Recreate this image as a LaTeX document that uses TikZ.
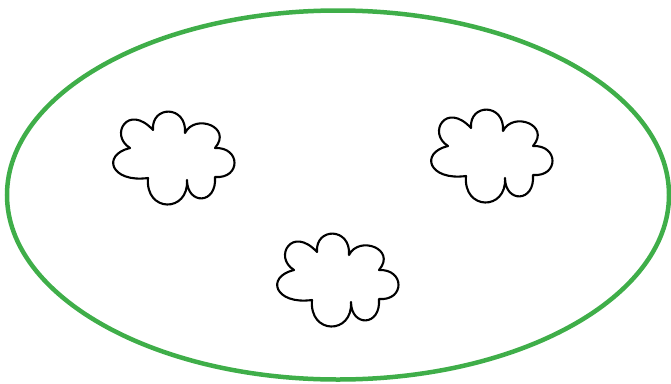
\documentclass[tikz,border=0pt]{standalone}
\usetikzlibrary{positioning, shapes.geometric}
\definecolor{cgreen}{HTML}{3FAE49}
\tikzset{
  every picture/.style={x=1pt, y=-1pt},
  rim/.style={draw=cgreen, line width=4.5pt},
  blob/.style={draw=black, line width=2.1pt, line join=round},
  cloud/.pic={
    \draw[blob] (-20,-27) .. controls (-22,-52) and (14,-52) .. (12,-24)
      .. controls (22,-44) and (60,-30) .. (42,-9)
      .. controls (68,-10) and (68,22) .. (42,20)
      .. controls (44,48) and (14,48) .. (14,23)
      .. controls (16,56) and (-28,56) .. (-25,21)
      .. controls (-62,26) and (-72,-2) .. (-43,-9)
      .. controls (-64,-22) and (-45,-54) .. cycle;
  },
}
\begin{document}
\begin{tikzpicture}
  \useasboundingbox (0,0) rectangle (671,383);
  % outer set
  \node[rim, ellipse, minimum width=662pt, minimum height=369pt, inner sep=0pt] (set) at (338,195) {};
  % three clouds inside
  \foreach \cx/\cy in {173/157, 491/155, 337/279}
    \pic at (\cx,\cy) {cloud};
\end{tikzpicture}
\end{document}
